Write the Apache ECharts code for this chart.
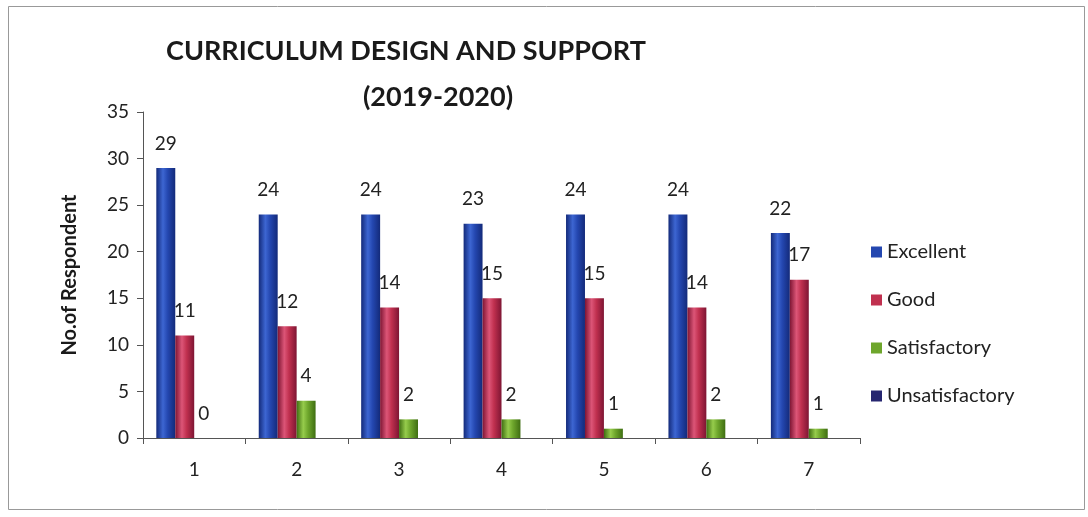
<!DOCTYPE html>
<html>
<head>
<meta charset="utf-8">
<script src="https://cdn.jsdelivr.net/npm/echarts@6/dist/echarts.min.js"></script>
<style>
html,body{margin:0;padding:0;background:#fff;}
#chart{width:1088px;height:517px;}
</style>
</head>
<body>
<div id="chart"></div>
<script>
const categories = ['1','2','3','4','5','6','7'];
const excellent = [29,24,24,23,24,24,22];
const good = [11,12,14,15,15,14,17];
const satisfactory = [0,4,2,2,1,2,1];
const unsatisfactory = [null,null,null,null,null,null,null];
const seriesNames = ['Excellent','Good','Satisfactory','Unsatisfactory'];
const titleLine1 = 'CURRICULUM DESIGN AND SUPPORT';
const titleLine2 = '(2019-2020)';
const yAxisName = 'No.of Respondent';

function grad(dark, mid, light){
  return new echarts.graphic.LinearGradient(0,0,1,0,[
    {offset:0,color:dark},{offset:0.35,color:light},{offset:0.6,color:mid},{offset:1,color:dark}
  ]);
}
const colors = [
  grad('#132a7a','#2447b0','#3d66d2'),
  grad('#7e1533','#c0304f','#dc5577'),
  grad('#3f6e12','#6ea62c','#96cc4c'),
  grad('#141442','#262670','#3a3a90')
];
const legendColors = ['#2447b0','#c0304f','#6ea62c','#262670'];
const font = 'Lato, "Open Sans", "Noto Sans", sans-serif';

const dataSets = [excellent, good, satisfactory, unsatisfactory];
const chart = echarts.init(document.getElementById('chart'));
chart.setOption({
  backgroundColor:'#fff',
  animation:false,
  textStyle:{fontFamily:font},
  title:[
    {text:titleLine1,left:401,top:33,textAlign:'center',textStyle:{fontSize:27,fontWeight:'bold',color:'#1a1a1a',fontFamily:font}},
    {text:titleLine2,left:433,top:79,textAlign:'center',textStyle:{fontSize:27,fontWeight:'bold',color:'#1a1a1a',fontFamily:font}}
  ],
  graphic:[{type:'rect',shape:{x:8.5,y:6.5,width:1076,height:503},style:{fill:null,stroke:'#999',lineWidth:1},silent:true}],
  legend:{
    orient:'vertical',left:866,top:237,itemGap:28,itemWidth:11,itemHeight:11,
    icon:'rect',
    textStyle:{fontSize:20,color:'#222',fontFamily:font},
    data:seriesNames.map((n,i)=>({name:n,itemStyle:{color:legendColors[i]}}))
  },
  grid:{left:143,right:228,top:112,bottom:79,containLabel:false},
  xAxis:{
    type:'category',data:categories,
    axisLine:{lineStyle:{color:'#555',width:1}},
    axisTick:{show:true,length:6,lineStyle:{color:'#555'}},
    axisLabel:{fontSize:19,color:'#222',margin:22,fontFamily:font}
  },
  yAxis:{
    type:'value',min:0,max:35,interval:5,
    name:yAxisName,nameLocation:'middle',nameGap:63,
    nameTextStyle:{fontSize:20,fontWeight:'bold',color:'#1a1a1a',fontFamily:font},
    axisLine:{show:true,lineStyle:{color:'#555'}},
    axisTick:{show:true,length:6,lineStyle:{color:'#555'}},
    splitLine:{show:false},
    axisLabel:{fontSize:19,color:'#222',margin:14,fontFamily:font}
  },
  series:dataSets.map((d,i)=>({
    name:seriesNames[i],type:'bar',data:d,
    barGap:'0%',barCategoryGap:'26%',
    itemStyle:{color:colors[i]},
    label:{show:true,position:'top',distance:15,fontSize:19,color:'#222',fontFamily:font}
  }))
});
</script>
</body>
</html>
